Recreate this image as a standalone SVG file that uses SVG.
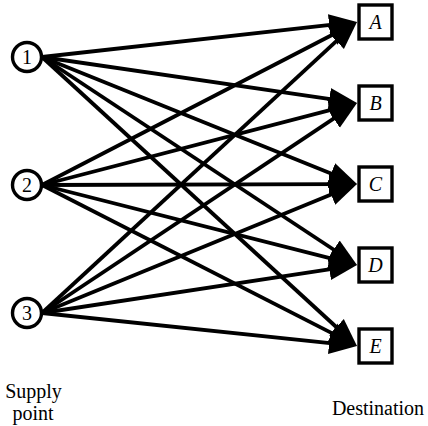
<svg xmlns="http://www.w3.org/2000/svg" width="428" height="426" viewBox="0 0 428 426">
  <style>
    .bg { fill: #ffffff; }
    .edge { stroke: #000; stroke-width: 3.8; fill: none; marker-end: url(#head); }
    .supply circle { fill: #fff; stroke: #000; stroke-width: 3.4; }
    .dest rect { fill: #fff; stroke: #000; stroke-width: 3.4; }
    .num { font-family: "Liberation Serif", "Times New Roman", serif; font-size: 20px; text-anchor: middle; fill: #000; }
    .let { font-family: "Liberation Serif", "Times New Roman", serif; font-size: 20px; font-style: italic; text-anchor: middle; fill: #000; }
    .cap { font-family: "Liberation Serif", "Times New Roman", serif; font-size: 20px; text-anchor: middle; fill: #000; }
  </style>
  <defs>
    <!-- filled arrowhead; the tip sits 20 units past the end of each line -->
    <marker id="head" markerUnits="userSpaceOnUse" viewBox="0 -12 30 24" markerWidth="30" markerHeight="24" refX="8" refY="0" orient="auto">
      <path d="M0,-11 L28,0 L0,11 z" fill="#000"/>
    </marker>
  </defs>
  <rect class="bg" x="0" y="0" width="428" height="426"/>

  <g id="connectors">
    <!-- from supply point 1 -->
    <line class="edge" x1="42" y1="57" x2="337.12" y2="24.21"/>
    <line class="edge" x1="42" y1="57" x2="337.21" y2="100.11"/>
    <line class="edge" x1="42" y1="57" x2="338.45" y2="176.52"/>
    <line class="edge" x1="42" y1="57" x2="340.31" y2="253.98"/>
    <line class="edge" x1="42" y1="57" x2="342.26" y2="332.48"/>
    <!-- from supply point 2 -->
    <line class="edge" x1="42" y1="185" x2="339.24" y2="31.19"/>
    <line class="edge" x1="42" y1="185" x2="337.65" y2="108.04"/>
    <line class="edge" x1="42" y1="185" x2="337" y2="184.06"/>
    <line class="edge" x1="42" y1="185" x2="337.62" y2="260.08"/>
    <line class="edge" x1="42" y1="185" x2="339.19" y2="336.90"/>
    <!-- from supply point 3 -->
    <line class="edge" x1="42" y1="313" x2="342.31" y2="35.57"/>
    <line class="edge" x1="42" y1="313" x2="340.36" y2="114.09"/>
    <line class="edge" x1="42" y1="313" x2="338.49" y2="191.58"/>
    <line class="edge" x1="42" y1="313" x2="337.23" y2="268.01"/>
    <line class="edge" x1="42" y1="313" x2="337.11" y2="343.92"/>
  </g>

  <g id="supply-1" class="supply">
    <circle cx="27" cy="57" r="14.5"/>
    <text class="num" x="27" y="64">1</text>
  </g>
  <g id="supply-2" class="supply">
    <circle cx="27" cy="185" r="14.5"/>
    <text class="num" x="27" y="192">2</text>
  </g>
  <g id="supply-3" class="supply">
    <circle cx="27" cy="313" r="14.5"/>
    <text class="num" x="27" y="320">3</text>
  </g>

  <g id="dest-A" class="dest">
    <rect x="359" y="5" width="33" height="34"/>
    <text class="let" x="375.5" y="29">A</text>
  </g>
  <g id="dest-B" class="dest">
    <rect x="359" y="86" width="33" height="34"/>
    <text class="let" x="375.5" y="110">B</text>
  </g>
  <g id="dest-C" class="dest">
    <rect x="359" y="167" width="33" height="34"/>
    <text class="let" x="375.5" y="191">C</text>
  </g>
  <g id="dest-D" class="dest">
    <rect x="359" y="248" width="33" height="34"/>
    <text class="let" x="375.5" y="272">D</text>
  </g>
  <g id="dest-E" class="dest">
    <rect x="359" y="329" width="33" height="34"/>
    <text class="let" x="375.5" y="353">E</text>
  </g>

  <g id="captions">
    <text class="cap" x="33.5" y="398">Supply</text>
    <text class="cap" x="33" y="420">point</text>
    <text class="cap" x="378" y="415">Destination</text>
  </g>
</svg>
